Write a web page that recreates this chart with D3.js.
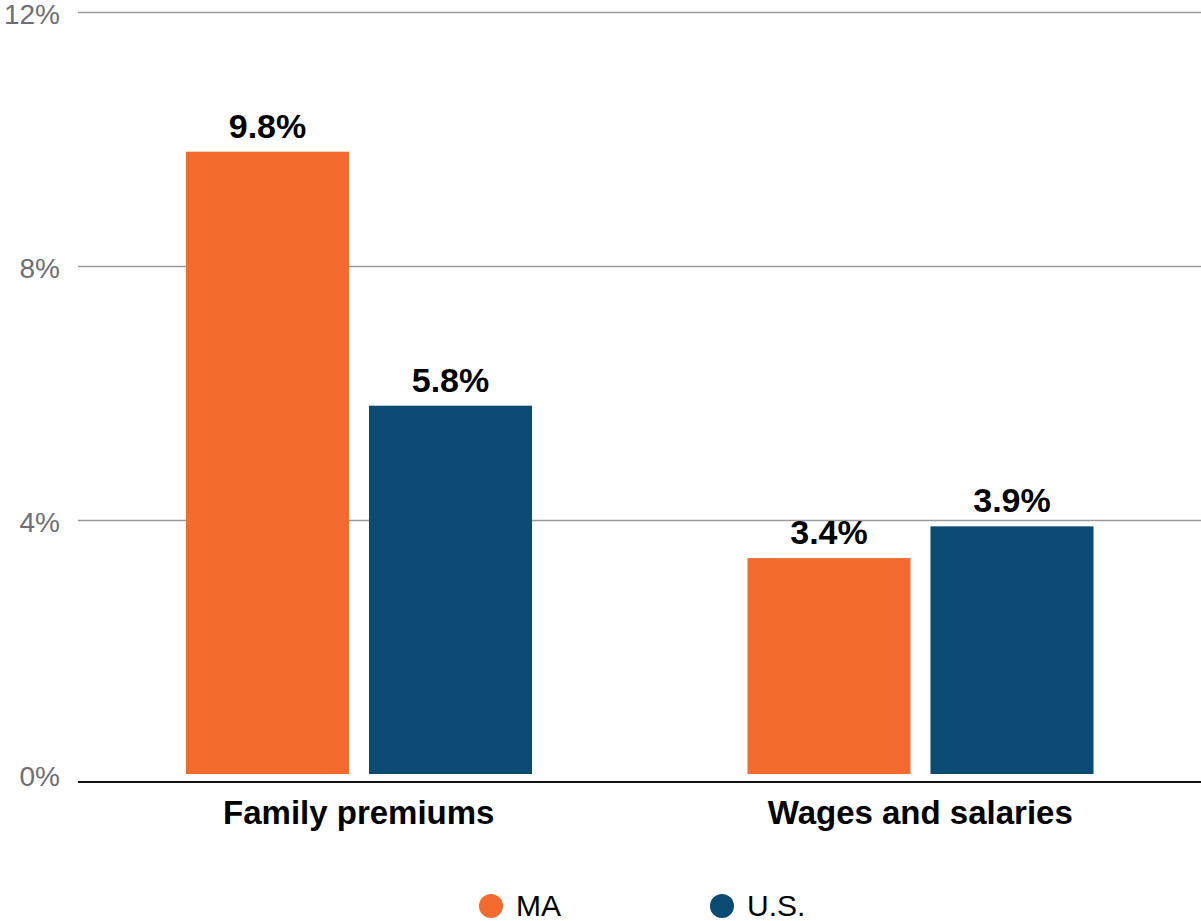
<!DOCTYPE html>
<html>
<head>
<meta charset="utf-8">
<script src="https://cdn.jsdelivr.net/npm/d3@7"></script>
<style>
  html, body { margin: 0; padding: 0; background: #fff; }
  svg { display: block; }
</style>
</head>
<body>
<svg id="chart" width="1201" height="921"></svg>
<script>
// Annual growth: health premiums vs. wages, Massachusetts and U.S.
const categories = ["Family premiums", "Wages and salaries"];
const seriesNames = ["MA", "U.S."];
const maValues = [9.8, 3.4];
const usValues = [5.8, 3.9];
const yTicks = [0, 4, 8, 12];
const colors = ["#F26A2E", "#0B4A73"];

const svg = d3.select("#chart");
const W = 1201;
const plotLeft = 78, plotRight = W, plotTop = 12, zeroY = 774;

const rows = categories.map((c, i) => ({ cat: c, vals: [maValues[i], usValues[i]] }));

const x0 = d3.scaleBand().domain(categories).range([plotLeft, plotRight]).paddingInner(0).paddingOuter(0);
const x1 = d3.scaleBand().domain(seriesNames).range([108, 108 + 346]).paddingInner(20 / 183);
const y = d3.scaleLinear().domain([0, 12]).range([zeroY, plotTop]);

// Horizontal gridlines and tick labels
const yAxis = d3.axisLeft(y).tickValues(yTicks).tickFormat(d => d + "%").tickSize(-(plotRight - plotLeft)).tickPadding(18);
const gy = svg.append("g").attr("transform", `translate(${plotLeft},0)`).call(yAxis);
gy.select(".domain").remove();
gy.selectAll(".tick line").attr("stroke", "#9a9a9f").attr("stroke-width", 1.5)
  .attr("display", d => d === 0 ? "none" : null);
gy.selectAll(".tick text")
  .attr("fill", "#6e6e76")
  .style("font-family", "'Liberation Sans', Arial, sans-serif")
  .style("font-size", "28px")
  .attr("dy", "0.4em");

// Bars
const groups = svg.append("g").selectAll("g").data(rows).join("g")
  .attr("transform", d => `translate(${x0(d.cat) + x0.bandwidth() / 2 - 280.75},0)`);

groups.selectAll("rect").data(d => d.vals.map((v, j) => ({ s: seriesNames[j], v, j })))
  .join("rect")
  .attr("x", d => x1(d.s))
  .attr("width", x1.bandwidth())
  .attr("y", d => y(d.v))
  .attr("height", d => zeroY - y(d.v))
  .attr("fill", d => colors[d.j]);

// Value labels
groups.selectAll("text.val").data(d => d.vals.map((v, j) => ({ s: seriesNames[j], v, j })))
  .join("text")
  .attr("class", "val")
  .attr("x", d => x1(d.s) + x1.bandwidth() / 2)
  .attr("y", d => y(d.v) - 14)
  .attr("text-anchor", "middle")
  .attr("fill", "#000")
  .style("font-family", "'Liberation Sans', Arial, sans-serif")
  .style("font-weight", "bold")
  .style("font-size", "34px")
  .text(d => d.v.toFixed(1) + "%");

// Baseline
svg.append("line")
  .attr("x1", plotLeft).attr("x2", plotRight)
  .attr("y1", 782).attr("y2", 782)
  .attr("stroke", "#111").attr("stroke-width", 2);

// Category labels
svg.append("g").selectAll("text").data(categories).join("text")
  .attr("x", d => x0(d) + x0.bandwidth() / 2)
  .attr("y", 824)
  .attr("text-anchor", "middle")
  .attr("fill", "#000")
  .style("font-family", "'Liberation Sans', Arial, sans-serif")
  .style("font-weight", "bold")
  .style("font-size", "33px")
  .text(d => d);

// Legend
const legendX = [491, 722];
const legend = svg.append("g").selectAll("g").data(seriesNames).join("g")
  .attr("transform", (d, i) => `translate(${legendX[i]},906)`);
legend.append("circle").attr("r", 12).attr("fill", (d, i) => colors[i]);
legend.append("text")
  .attr("x", 25).attr("y", 10)
  .attr("fill", "#000")
  .style("font-family", "'Liberation Sans', Arial, sans-serif")
  .style("font-size", "30px")
  .text(d => d);
</script>
</body>
</html>
